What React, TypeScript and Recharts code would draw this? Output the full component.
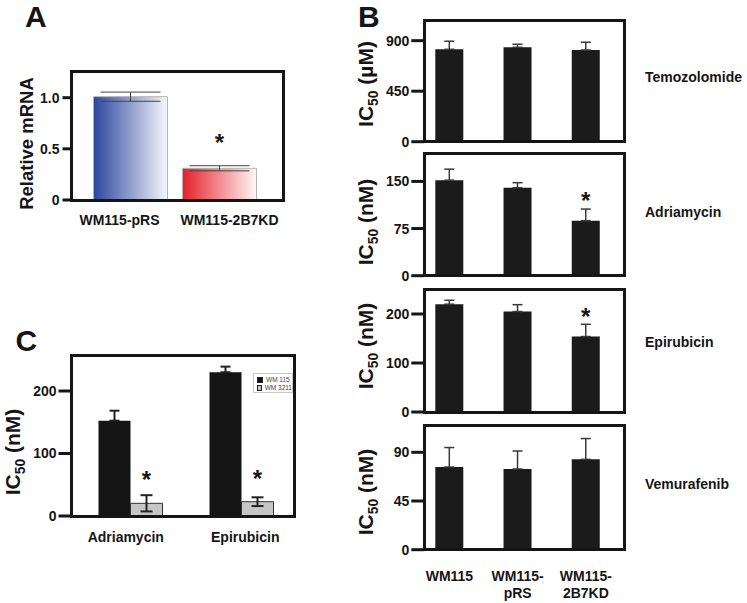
import React from "react";
import { BarChart, Bar, XAxis, YAxis, ErrorBar, Cell, LabelList, Legend } from "recharts";

const FONT = '"Liberation Sans", Arial, Helvetica, sans-serif';
const INK = "#151515";

// ---- panel A: relative mRNA
const aGroups = ["WM115-pRS", "WM115-2B7KD"];
const aMrna = [1.01, 0.31];
const aMrnaErr = [0.045, 0.025];
const aStars = ["", "*"];
const aTicks = [0, 0.5, 1.0];

// ---- panel B: IC50 per drug, three cell lines
const bCells = ["WM115", "WM115-\npRS", "WM115-\n2B7KD"];
const temozolomide = [823, 841, 817];
const temozolomideErr = [72, 27, 69];
const adriamycin = [152, 140, 87.5];
const adriamycinErr = [17.5, 8, 18.5];
const epirubicin = [220, 205, 154];
const epirubicinErr = [8, 14, 25];
const vemurafenib = [76.4, 74.6, 83.5];
const vemurafenibErr = [18, 16.6, 19.2];
const noStars = ["", "", ""];
const knockdownStar = ["", "", "*"];

// ---- panel C: WM115 vs WM3211
const cDrugs = ["Adriamycin", "Epirubicin"];
const cWM115 = [152.5, 230];
const cWM115Err = [16, 9];
const cWM3211 = [20.3, 22.9];
const cWM3211Err = [13, 7];
const cStars = ["*", "*"];

type Box = { x: number; y: number; w: number; h: number };

const tickText = { fontSize: 14, fontWeight: 700, fill: INK, fontFamily: FONT };

function Frame({ box }: { box: Box }) {
  return (
    <div
      style={{
        position: "absolute",
        left: box.x - 1.5,
        top: box.y - 1.5,
        width: box.w + 3,
        height: box.h + 3,
        border: `3px solid ${INK}`,
        boxSizing: "border-box",
        pointerEvents: "none",
      }}
    />
  );
}

function YTitle({ x, cy, size, main, sub, rest }: any) {
  return (
    <text
      x={x}
      y={cy}
      transform={`rotate(-90 ${x} ${cy})`}
      textAnchor="middle"
      fontSize={size}
      fontWeight={700}
      fill={INK}
      fontFamily={FONT}
    >
      {main}
      {sub ? (
        <>
          <tspan dy={5} fontSize={size * 0.66}>{sub}</tspan>
          <tspan dy={-5}>{rest}</tspan>
        </>
      ) : null}
    </text>
  );
}

// category labels, optionally pushed apart a little from the bar centres
function XTick({ x, y, payload, index, visibleTicksCount, first, spread = 0 }: any) {
  const lines = String(payload.value).split("\n");
  const n = visibleTicksCount || 1;
  const cx = x + (index - (n - 1) / 2) * spread;
  return (
    <text x={cx} y={y} textAnchor="middle" {...tickText}>
      {lines.map((l, i) => (
        <tspan key={i} x={cx} dy={i === 0 ? first : 17}>{l}</tspan>
      ))}
    </text>
  );
}

function PanelA() {
  const W = 300, H = 240;
  const box: Box = { x: 71.5, y: 71, w: 212, h: 129 };
  const data = aGroups.map((g, i) => ({ name: g, value: aMrna[i], err: aMrnaErr[i], star: aStars[i] }));
  return (
    <div style={{ position: "absolute", left: 0, top: 0, width: W, height: H }}>
      <BarChart width={W} height={H} data={data}
        margin={{ top: box.y, right: W - box.x - box.w, left: 0, bottom: 0 }}>
        <defs>
          <linearGradient id="gBlue" x1="0" y1="0" x2="1" y2="0">
            <stop offset="0" stopColor="#2b469e" />
            <stop offset="1" stopColor="#f6f6fb" />
          </linearGradient>
          <linearGradient id="gRed" x1="0" y1="0" x2="1" y2="0">
            <stop offset="0" stopColor="#e5202a" />
            <stop offset="1" stopColor="#fff7f7" />
          </linearGradient>
        </defs>
        <XAxis dataKey="name" height={H - box.y - box.h} padding={{ left: 14, right: 20 }}
          axisLine={false} tickLine={false} tickSize={0} tickMargin={0} interval={0}
          tick={(p: any) => <XTick {...p} first={25} spread={21} />} />
        <YAxis width={box.x} domain={[0, 1.261]} ticks={aTicks} interval={0}
          tickFormatter={(v: number) => (v === 0 ? "0" : v.toFixed(1))}
          axisLine={false} tickSize={9} tickMargin={3}
          tickLine={{ stroke: INK, strokeWidth: 3 }} tick={tickText}
          label={{ content: () => <YTitle x={33} cy={143.5} size={18.5} main="Relative mRNA" /> }} />
        <Bar dataKey="value" barSize={74} stroke="#b5b5b5" strokeWidth={1} isAnimationActive={false}>
          {data.map((d, i) => (
            <Cell key={d.name} fill={i === 0 ? "url(#gBlue)" : "url(#gRed)"} />
          ))}
          <ErrorBar dataKey="err" width={30} stroke="#444" strokeWidth={1} />
          <LabelList dataKey="star" position="top" offset={17} fill={INK} fontSize={24} fontWeight={700} fontFamily={FONT} />
        </Bar>
      </BarChart>
      <Frame box={box} />
    </div>
  );
}

function DrugPlot({ boxY, boxH, values, errs, stars, unit, ticks, top, showX, labelCy }: any) {
  const W = 300;
  const bottom = showX ? 60 : 10;
  const H = Math.round(boxH + 10 + bottom);
  const box: Box = { x: 84.3, y: 10, w: 200.7, h: boxH };
  const data = bCells.map((c, i) => ({ name: c, value: values[i], err: [0, errs[i]], star: stars[i] }));
  return (
    <div style={{ position: "absolute", left: 340, top: boxY - 10, width: W, height: H }}>
      <BarChart width={W} height={H} data={data}
        margin={{ top: box.y, right: W - box.x - box.w, left: 0, bottom: showX ? 0 : H - box.y - box.h }}>
        <XAxis dataKey="name" hide={!showX} height={H - box.y - box.h} padding={{ left: -9, right: 5 }}
          axisLine={false} tickLine={false} tickSize={0} tickMargin={0} interval={0}
          tick={(p: any) => <XTick {...p} first={31} />} />
        <YAxis width={box.x} domain={[0, top]} ticks={ticks} interval={0}
          axisLine={false} tickSize={13} tickMargin={2}
          tickLine={{ stroke: INK, strokeWidth: 3 }} tick={tickText}
          label={{ content: () => <YTitle x={33} cy={labelCy} size={21} main="IC" sub="50" rest={` (${unit})`} /> }} />
        <Bar dataKey="value" barSize={28} fill="#1b1b1b" isAnimationActive={false}>
          <ErrorBar dataKey="err" width={5} stroke="#3a3a3a" strokeWidth={1.5} />
          <LabelList dataKey="star" position="top" offset={12} fill={INK} fontSize={24} fontWeight={700} fontFamily={FONT} />
        </Bar>
      </BarChart>
      <Frame box={box} />
    </div>
  );
}

function CLegend({ payload }: any) {
  return (
    <div style={{
      width: 40, height: 20, border: "1px solid #c8c8c8", background: "#fff",
      boxSizing: "border-box", padding: "2px 0 0 3px", fontFamily: FONT,
      fontSize: 6.5, lineHeight: "8px", color: "#444", whiteSpace: "nowrap",
    }}>
      {(payload || []).map((e: any) => (
        <div key={e.value} style={{ display: "flex", alignItems: "center" }}>
          <span style={{
            display: "inline-block", width: 4, height: 4, marginRight: 3,
            background: e.color, border: "1px solid #222",
          }} />
          {e.value}
        </div>
      ))}
    </div>
  );
}

function PanelC() {
  const W = 310, H = 240;
  const box: Box = { x: 71.5, y: 35, w: 223, h: 161 };
  const data = cDrugs.map((d, i) => ({
    name: d, a: cWM115[i], aErr: [0, cWM115Err[i]], b: cWM3211[i], bErr: cWM3211Err[i], star: cStars[i],
  }));
  return (
    <div style={{ position: "absolute", left: 0, top: 320, width: W, height: H }}>
      <BarChart width={W} height={H} data={data} barGap={0}
        margin={{ top: box.y, right: W - box.x - box.w, left: 0, bottom: 0 }}>
        <XAxis dataKey="name" height={H - box.y - box.h} padding={{ left: 3, right: -2 }}
          axisLine={false} tickLine={false} tickSize={0} tickMargin={0} interval={0}
          tick={(p: any) => <XTick {...p} first={26} spread={8.5} />} />
        <YAxis width={box.x} domain={[0, 257.6]} ticks={[0, 100, 200]} interval={0}
          axisLine={false} tickSize={13} tickMargin={2}
          tickLine={{ stroke: INK, strokeWidth: 3 }} tick={tickText}
          label={{ content: () => <YTitle x={20} cy={132} size={21} main="IC" sub="50" rest=" (nM)" /> }} />
        <Legend layout="vertical" align="center" verticalAlign="middle" content={<CLegend />}
          wrapperStyle={{ left: 253, top: 53, width: 40, height: 20 }} />
        <Bar dataKey="a" name="WM 115" barSize={32} fill="#141414" isAnimationActive={false}>
          <ErrorBar dataKey="aErr" width={5} stroke="#222" strokeWidth={2} />
        </Bar>
        <Bar dataKey="b" name="WM 3211" barSize={32} fill="#c6c6c6" stroke="#333" strokeWidth={1} isAnimationActive={false}>
          <ErrorBar dataKey="bErr" width={6} stroke="#222" strokeWidth={2} />
          <LabelList dataKey="star" position="top" offset={15} fill={INK} fontSize={24} fontWeight={700} fontFamily={FONT} />
        </Bar>
      </BarChart>
      <Frame box={box} />
    </div>
  );
}

function Letter({ x, y, children }: any) {
  return (
    <div style={{ position: "absolute", left: x, top: y, fontSize: 30, fontWeight: 700, lineHeight: 1.12, color: INK }}>
      {children}
    </div>
  );
}

function DrugName({ y, children }: any) {
  return (
    <div style={{ position: "absolute", left: 645, top: y, fontSize: 14, fontWeight: 700, lineHeight: 1, color: INK }}>
      {children}
    </div>
  );
}

export default function App() {
  return (
    <div style={{ position: "absolute", left: 0, top: 0, width: 747, height: 603, background: "#fff", fontFamily: FONT, overflow: "hidden" }}>
      <Letter x={25} y={0}>A</Letter>
      <Letter x={358} y={0}>B</Letter>
      <Letter x={15.5} y={324}>C</Letter>
      <PanelA />
      <PanelC />
      <DrugPlot boxY={20} boxH={121.7} values={temozolomide} errs={temozolomideErr} stars={noStars}
        unit="µM" ticks={[0, 450, 900]} top={1084} labelCy={74} />
      <DrugPlot boxY={153.3} boxH={122.7} values={adriamycin} errs={adriamycinErr} stars={knockdownStar}
        unit="nM" ticks={[0, 75, 150]} top={195.2} labelCy={79} />
      <DrugPlot boxY={289.3} boxH={123} values={epirubicin} errs={epirubicinErr} stars={knockdownStar}
        unit="nM" ticks={[0, 100, 200]} top={251} labelCy={67} />
      <DrugPlot boxY={425.7} boxH={123.7} values={vemurafenib} errs={vemurafenibErr} stars={noStars}
        unit="nM" ticks={[0, 45, 90]} top={114.3} labelCy={76} showX />
      <DrugName y={70}>Temozolomide</DrugName>
      <DrugName y={205}>Adriamycin</DrugName>
      <DrugName y={335}>Epirubicin</DrugName>
      <DrugName y={476.5}>Vemurafenib</DrugName>
    </div>
  );
}
